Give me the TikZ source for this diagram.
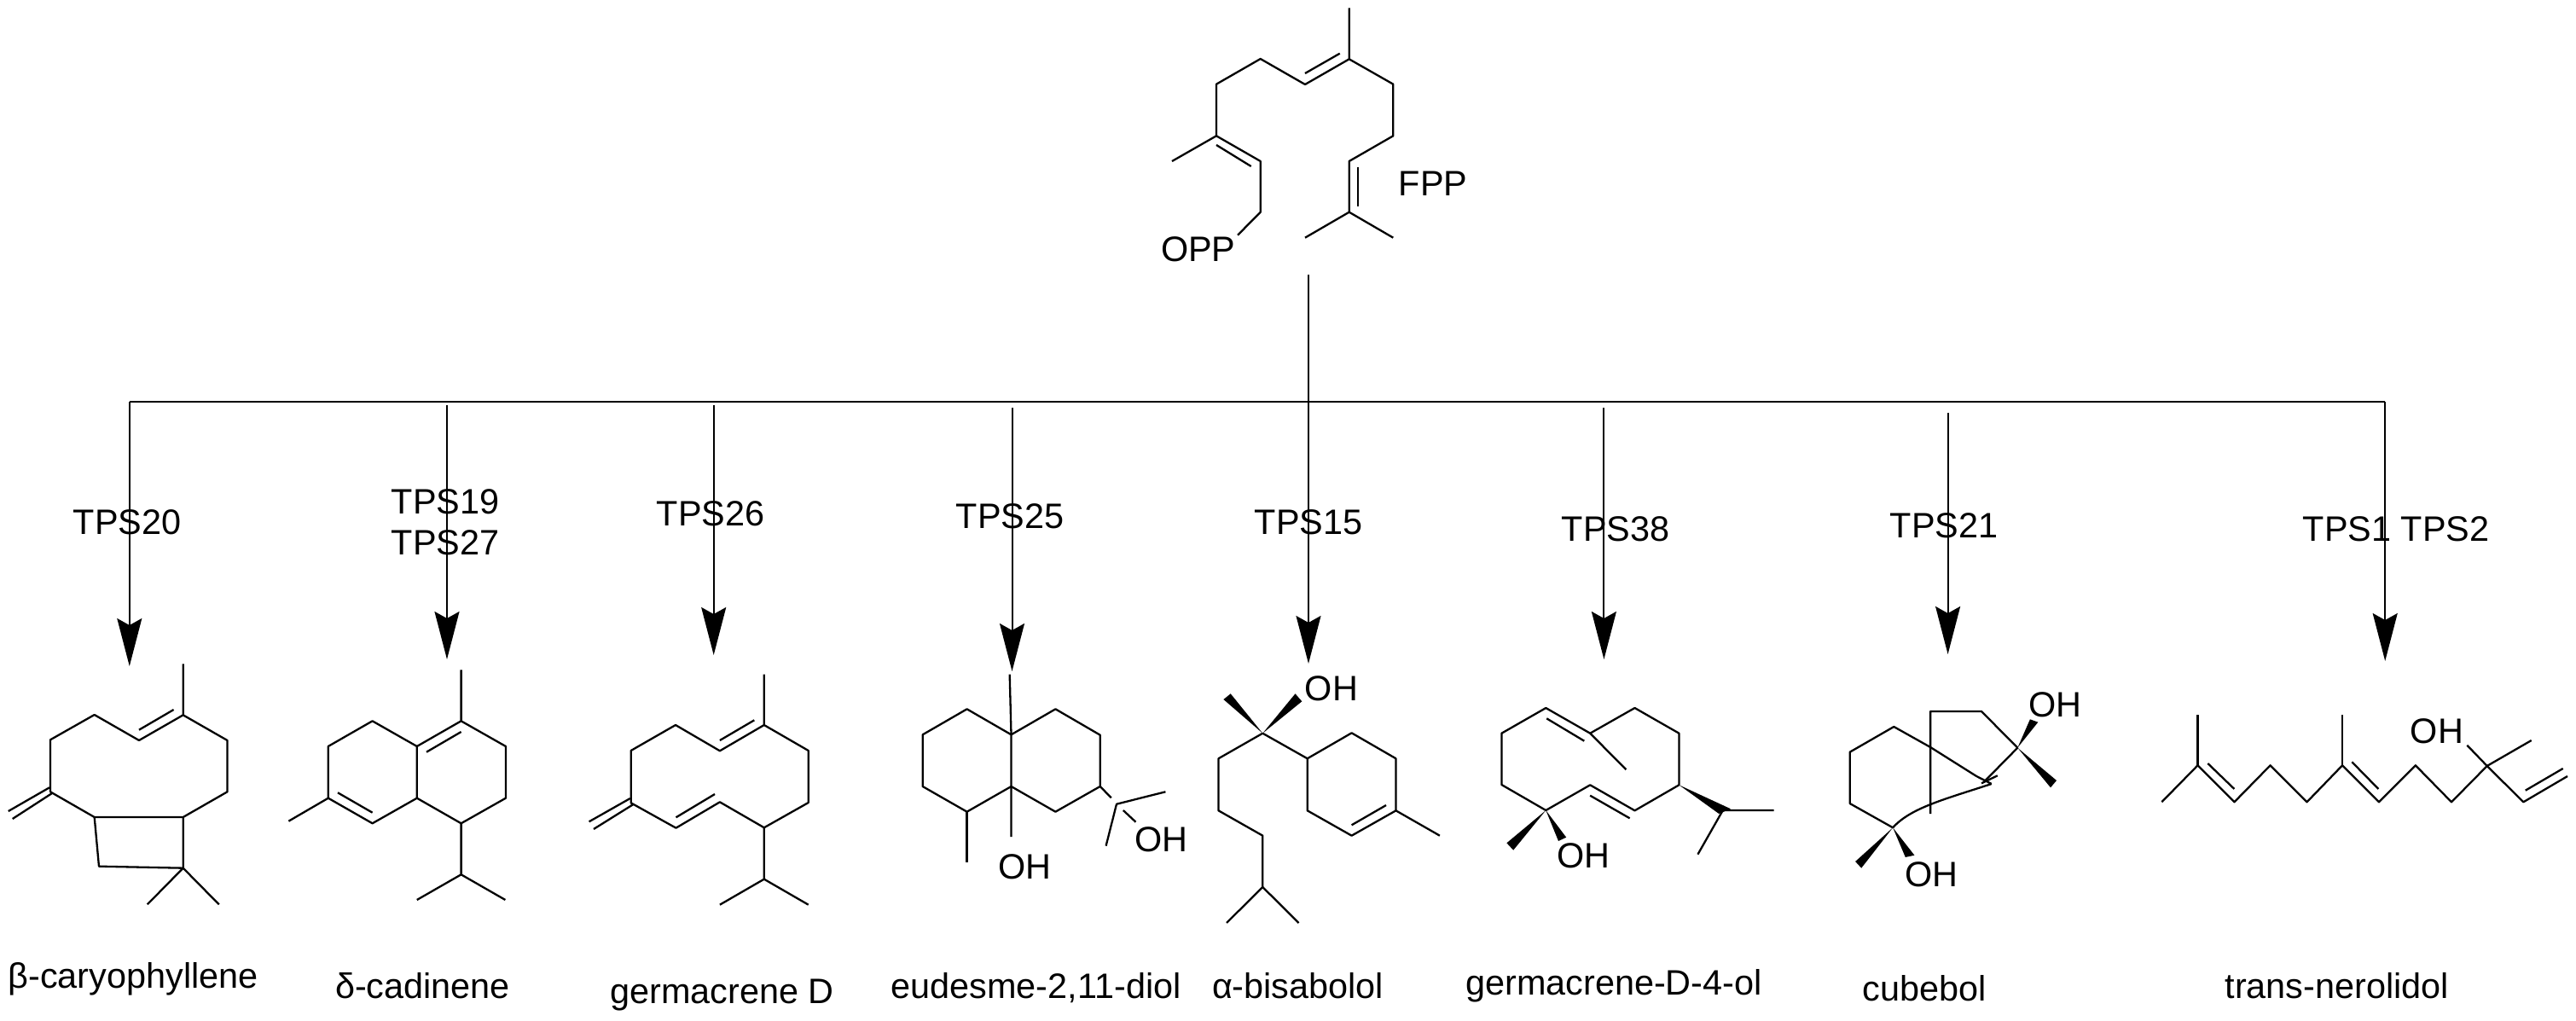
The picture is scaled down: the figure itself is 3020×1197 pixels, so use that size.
\documentclass[tikz,border=0pt]{standalone}
\usepackage{fontspec}
\setmainfont{Liberation Sans}
\usetikzlibrary{arrows.meta}
\tikzset{
    bond/.style = {line width = 1.15pt, line join = round},
    branch/.style = {line width = 1pt, -{Stealth[length = 28pt, width = 14.5pt, inset = 4pt]}},
    wedge/.style = {fill = black},
    chem/.style = {anchor = base, inner sep = 0pt, font = \fontsize{20.7}{24}\selectfont}
}
\begin{document}
\begin{tikzpicture}[x = 0.5pt, y = -0.5pt]
    \useasboundingbox (0, 0) rectangle (3020, 1197);
    % FPP
    \draw [bond] (1581.7, 9.3) -- (1581.7, 69.3) -- (1530, 99) -- (1477.7, 69) -- (1426, 98.7) -- (1426, 159.3) -- (1477.7, 189) -- (1477.7, 248.7) -- (1451, 275.7);
    \draw [bond] (1426, 159.3) -- (1374, 189);
    \draw [bond] (1530, 86) -- (1570.7, 62.7);
    \draw [bond] (1426, 170) -- (1466.7, 195);
    \draw [bond] (1581.7, 69.3) -- (1633.3, 98.7) -- (1633.3, 159.3) -- (1581.7, 189) -- (1581.7, 248.7) -- (1530, 278.7);
    \draw [bond] (1581.7, 248.7) -- (1633.3, 278.7);
    \draw [bond] (1592, 195.7) -- (1592, 242.3);
    \node [chem] (opp) at (1404.7, 307) {OPP};
    \node [chem] (fpp) at (1680, 230) {FPP};
    % branching lines
    \coordinate (stemtop) at (1534, 322);
    \coordinate (barleft) at (151.8, 471);
    \coordinate (barmid) at (1534, 471);
    \coordinate (barright) at (2796.2, 471);
    \draw [bond] (barleft) -- (barright);
    \draw [line width = 1pt] (stemtop) -- (barmid);
    \coordinate (tipa) at (151.8, 781);
    \coordinate (starta) at (524, 475);
    \coordinate (tipb) at (524, 773);
    \coordinate (startc) at (836.7, 475);
    \coordinate (tipc) at (836.7, 768);
    \coordinate (startd) at (1186.5, 478);
    \coordinate (tipd) at (1186.5, 787);
    \coordinate (tipe) at (1534, 778);
    \coordinate (startf) at (1880.4, 478);
    \coordinate (tipf) at (1880.4, 773);
    \coordinate (startg) at (2283.6, 484);
    \coordinate (tipg) at (2283.6, 767);
    \coordinate (tiph) at (2796.2, 775);
    \draw [branch] (barleft) -- (tipa);
    \draw [branch] (starta) -- (tipb);
    \draw [branch] (startc) -- (tipc);
    \draw [branch] (startd) -- (tipd);
    \draw [branch] (barmid) -- (tipe);
    \draw [branch] (startf) -- (tipf);
    \draw [branch] (startg) -- (tipg);
    \draw [branch] (barright) -- (tiph);
    \node [chem] (tpsa) at (149, 627) {TPS20};
    \node [chem] (tpsb) at (522, 603) {TPS19};
    \node [chem] (tpsc) at (522, 650.7) {TPS27};
    \node [chem] (tpsd) at (833, 617) {TPS26};
    \node [chem] (tpse) at (1184, 620) {TPS25};
    \node [chem] (tpsf) at (1534, 626) {TPS15};
    \node [chem] (tpsg) at (1894, 634) {TPS38};
    \node [chem] (tpsh) at (2279, 631) {TPS21};
    \node [chem] (tpsi) at (2809, 634) {TPS1 TPS2};
    % caryophyllene
    \draw [bond] (214.7, 778.3) -- (214.7, 838.3) -- (163, 868) -- (110.7, 838) -- (59, 867.3) -- (59, 928.3) -- (110.7, 958) -- (214.7, 958) -- (266.5, 928.3) -- (266.5, 868) -- (214.7, 838.3);
    \draw [bond] (163, 855.7) -- (203.6, 832);
    \draw [bond] (58, 923.3) -- (9.8, 951);
    \draw [bond] (61, 930) -- (14.7, 960);
    \draw [bond] (110.7, 958) -- (116, 1015.7) -- (214.7, 1017.7) -- (214.7, 958);
    \draw [bond] (172.8, 1060.3) -- (214.7, 1017.7) -- (256.7, 1060.3);
    \node [chem] (caryo) at (156, 1158) {β-caryophyllene};
    % cadinene
    \draw [bond] (540.6, 785.3) -- (540.6, 845.3) -- (592.9, 875) -- (592.9, 935.7) -- (540.6, 965.3) -- (488.8, 935.7) -- (488.8, 875) -- (540.6, 845.3);
    \draw [bond] (488.8, 875) -- (436.6, 845.3) -- (384.8, 875) -- (384.8, 935.7) -- (436.6, 965.3) -- (488.8, 935.7);
    \draw [bond] (384.8, 935.7) -- (338.4, 962.7);
    \draw [bond] (500, 881.7) -- (540.6, 858);
    \draw [bond] (396, 929.3) -- (436.6, 952.7);
    \draw [bond] (540.6, 965.3) -- (540.6, 1025.3) -- (488.8, 1055);
    \draw [bond] (540.6, 1025.3) -- (592.4, 1055);
    \node [chem] (cadin) at (495.5, 1170) {δ-cadinene};
    % germacrene D
    \draw [bond] (895.8, 790.7) -- (895.8, 850) -- (843.9, 880.3) -- (792, 850) -- (739.7, 880) -- (739.7, 941.3) -- (792.5, 970.7) -- (843.9, 940.3) -- (895.8, 970.3) -- (947.7, 941) -- (947.7, 880) -- (895.8, 850);
    \draw [bond] (843.9, 868) -- (884.3, 844.3);
    \draw [bond] (792.5, 958.3) -- (838, 931);
    \draw [bond] (738.8, 936) -- (690.6, 963.3);
    \draw [bond] (742, 943.3) -- (696, 972);
    \draw [bond] (895.8, 970.3) -- (895.8, 1030.7) -- (843.9, 1060.7);
    \draw [bond] (895.8, 1030.7) -- (947.7, 1060.7);
    \node [chem] (germd) at (846.6, 1176.7) {germacrene D};
    % eudesmediol
    \draw [bond] (1183.7, 790.7) -- (1185.5, 861.3) -- (1133.6, 831.3) -- (1081.7, 861.3) -- (1081.7, 922) -- (1133.6, 951.7) -- (1185.5, 922) -- (1237.4, 951.7) -- (1289.7, 922) -- (1289.7, 861.7) -- (1237.4, 831.3) -- (1185.5, 861.3) -- (1185.5, 981);
    \draw [bond] (1133.6, 951.7) -- (1133.6, 1011);
    \draw [bond] (1289.7, 922) -- (1302.8, 935.3);
    \draw [bond] (1366.4, 928.3) -- (1309, 942.7) -- (1296.6, 991.7);
    \draw [bond] (1316.8, 950) -- (1331.5, 963.7);
    \node [chem] (oha) at (1201.5, 1030) {OH};
    \node [chem] (ohb) at (1361.5, 998) {OH};
    \node [chem] (eudes) at (1214.6, 1170) {eudesme-2,11-diol};
    % bisabolol
    \fill [wedge] (1480.3, 859.7) -- (1434.4, 820) -- (1442.7, 813.3) -- cycle;
    \fill [wedge] (1480.3, 859.7) -- (1526.3, 822.3) -- (1518.5, 813.3) -- cycle;
    \draw [bond] (1480.3, 859.7) -- (1428.5, 889.3) -- (1428.5, 950.3) -- (1480.3, 979.7) -- (1480.3, 1040) -- (1438, 1082);
    \draw [bond] (1480.3, 1040) -- (1522.6, 1082);
    \draw [bond] (1480.3, 859.7) -- (1532.7, 889.3) -- (1584.6, 859.3) -- (1636.5, 889.3) -- (1636.5, 950.3) -- (1584.6, 979.7) -- (1532.7, 950.3) -- (1532.7, 889.3);
    \draw [bond] (1584.6, 967.3) -- (1625, 944);
    \draw [bond] (1636.5, 950.3) -- (1687.9, 979.7);
    \node [chem] (ohc) at (1561, 821) {OH};
    \node [chem] (bisab) at (1521.6, 1170.7) {α-bisabolol};
    % germacrene-D-4-ol
    \draw [bond] (1812.3, 950) -- (1760.4, 920) -- (1760.4, 859.7) -- (1812.3, 830) -- (1864.2, 859.7) -- (1916.5, 830) -- (1968.4, 859.7) -- (1968.4, 920.3) -- (1916.5, 950.3) -- (1864.2, 920.3) -- cycle;
    \draw [bond] (1813.2, 842.3) -- (1857.3, 868.7);
    \draw [bond] (1864.2, 859.7) -- (1906.4, 902.3);
    \draw [bond] (1864.2, 932.7) -- (1910.6, 959.3);
    \fill [wedge] (1812.3, 950) -- (1766.4, 988.3) -- (1774.2, 996.7) -- cycle;
    \fill [wedge] (1812.3, 950) -- (1827, 986) -- (1836.2, 981.7) -- cycle;
    \fill [wedge] (1968.4, 920.3) -- (2015.2, 954) -- (2029, 948.3) -- cycle;
    \draw [bond] (2079.5, 950) -- (2019.8, 950) -- (1990.4, 1001.7);
    \node [chem] (ohd) at (1856.4, 1017.7) {OH};
    \node [chem] (germol) at (1891.9, 1166.7) {germacrene-D-4-ol};
    % cubebol
    \draw [bond] (2219.1, 970.3) -- (2168.7, 942) -- (2168.7, 881.7) -- (2220.3, 852) -- (2263.1, 876) -- (2317.1, 910) -- (2334.7, 919);
    \draw [bond] (2219.1, 970.3) .. controls (2240, 947) and (2280, 937) .. (2334.7, 919);
    \draw [bond] (2263.1, 954) -- (2263.1, 834) -- (2323, 834) -- (2365.3, 876.7) -- (2325.9, 916.7);
    \draw [bond] (2323, 918.3) -- (2341.8, 909.3);
    \fill [wedge] (2365.3, 876.7) -- (2379.9, 843.3) -- (2389.3, 846.7) -- cycle;
    \fill [wedge] (2365.3, 876.7) -- (2411, 915) -- (2404, 923.3) -- cycle;
    \fill [wedge] (2219.1, 970.3) -- (2175.1, 1010) -- (2182.2, 1017.7) -- cycle;
    \fill [wedge] (2219.1, 970.3) -- (2233.8, 1005) -- (2244.4, 1002.7) -- cycle;
    \node [chem] (ohe) at (2409.6, 840) {OH};
    \node [chem] (ohf) at (2264.3, 1039) {OH};
    \node [chem] (cube) at (2256.3, 1173) {cubebol};
    % nerolidol
    \draw [bond] (2534.3, 940.3) -- (2576.5, 897.3) -- (2619.4, 940.3) -- (2661.6, 897.3) -- (2704.5, 940.3) -- (2746.1, 897.3) -- (2789, 940.3) -- (2831.8, 897.3) -- (2874, 940.3) -- (2915.7, 898) -- (2958.3, 940.3) -- (3010, 910);
    \draw [bond] (2576.5, 897.3) -- (2576.5, 838.3);
    \draw [bond] (2746.1, 897.3) -- (2746.1, 838.3);
    \draw [bond] (2588.3, 895) -- (2619.4, 925);
    \draw [bond] (2757.3, 893.3) -- (2788.4, 925);
    \draw [bond] (2892.3, 873.7) -- (2915.7, 898) -- (2967.7, 868);
    \draw [bond] (2960.7, 926.7) -- (3004.7, 901);
    \node [chem] (ohg) at (2857, 871) {OH};
    \node [chem] (nerol) at (2739.7, 1170.7) {trans-nerolidol};
\end{tikzpicture}
\end{document}
